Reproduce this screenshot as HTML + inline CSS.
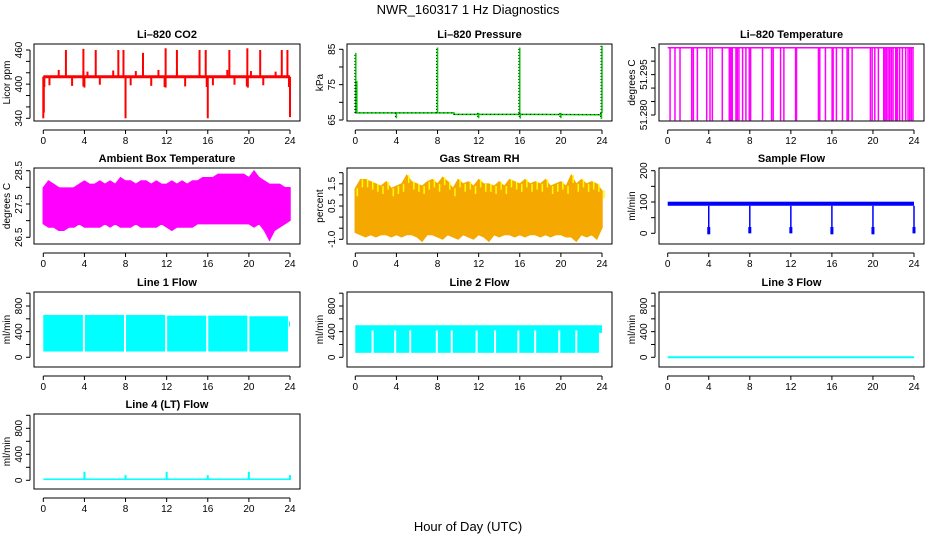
<!DOCTYPE html>
<html><head><meta charset="utf-8"><style>
html,body{margin:0;padding:0;background:#fff}
svg{display:block;font-family:"Liberation Sans",sans-serif}
</style></head><body>
<svg id="c" width="936" height="540" viewBox="0 0 936 540">
<text x="468" y="14" text-anchor="middle" font-size="13">NWR_160317  1 Hz Diagnostics</text>
<text x="468" y="531" text-anchor="middle" font-size="13">Hour of Day (UTC)</text>
</svg>
<script>
const xTicks=[0,4,8,12,16,20,24];
// CO2
const co2Base=[413,413];
const co2SpikeT=[2.2,3.9,5.1,7.3,7.8,9.7,11.9,13.0,15.2,15.8,18.1,19.85,21.1,23.2,23.75,1.5,3.9,4.3,6.8,9.0,11.2,13.0,17.9,20.2,22.6,0.0,0.05,0.1,8.0,16.0,24.0,0.6,2.8,3.9,4.0,5.5,8.5,10.5,11.8,11.9,13.8,15.9,16.5,18.6,19.8,19.9,21.4,23.9];
const co2SpikeV=[460,462,460,460,460,455,463,460,460,460,460,463,460,460,460,425,423,422,424,423,425,424,425,423,422,340,350,395,340,340,342,398,397,396,394,399,398,397,395,394,396,395,398,399,396,394,398,395];
// Pressure
const pBaseT=[0,9.6,9.6,17,24];
const pBaseV=[67,67,66.6,66.6,66.5];
const pSpikeT=[0.05,0.15,8,16,24,4,12,20,16.05,23.95];
const pSpikeV=[84,76,85.5,85.5,86,65.5,65.5,65.5,65.4,65.3];
// Li-820 temperature
const ltTimes=[0.23,0.71,1.2,2.34,2.5,2.89,3.8,4.12,4.35,5.32,6.0,6.1,6.13,6.2,6.29,6.65,6.78,6.94,7.3,7.62,7.95,8.08,9.24,10.12,10.28,11.0,11.32,12.46,12.55,14.69,14.82,15.37,16.02,16.12,16.44,17.03,17.48,17.61,17.97,19.75,19.92,20.18,20.53,21.05,21.18,21.31,21.47,21.63,21.8,21.96,22.22,22.3,22.38,22.6,22.87,23.19,23.42,23.58,23.74,23.9];
const ltHigh=51.305, ltLow=51.278;
// Ambient
const ambHi=[28.0,28.2,28.1,28.0,27.9,27.9,28.0,28.1,28.2,28.1,28.1,28.2,28.1,28.2,28.1,28.3,28.2,28.2,28.1,28.2,28.2,28.1,28.2,28.1,28.1,28.2,28.1,28.2,28.1,28.2,28.2,28.3,28.3,28.3,28.4,28.4,28.4,28.4,28.4,28.4,28.3,28.5,28.3,28.2,28.1,28.1,28.1,28.0,28.0];
const ambLo=[26.9,26.8,26.8,26.7,26.7,26.8,26.8,26.9,26.8,26.8,26.8,26.8,26.9,26.8,26.9,26.8,26.8,26.8,26.9,26.8,26.8,26.8,26.8,26.9,26.8,26.7,26.8,26.8,26.8,26.8,26.9,26.9,26.9,26.9,26.9,26.9,26.9,26.9,26.9,26.9,26.9,26.8,26.9,26.7,26.4,26.7,26.8,26.9,27.0];
const ambCore=[27.0,28.0];
// RH
const rhHi=[1.3,1.7,1.7,1.6,1.5,1.4,1.6,1.3,1.4,1.5,1.9,1.6,1.5,1.4,1.6,1.7,1.5,1.8,1.6,1.3,1.7,1.5,1.6,1.4,1.7,1.5,1.5,1.4,1.6,1.4,1.7,1.6,1.5,1.7,1.5,1.6,1.5,1.7,1.4,1.5,1.6,1.4,1.9,1.5,1.7,1.5,1.6,1.5,1.2];
const rhLo=[-0.7,-0.8,-0.9,-0.8,-0.9,-0.8,-0.8,-0.9,-0.8,-0.9,-0.8,-0.8,-0.9,-1.1,-0.8,-0.8,-0.9,-1.0,-0.8,-0.9,-1.0,-0.8,-0.9,-1.0,-0.8,-0.9,-1.1,-0.8,-0.9,-0.8,-0.8,-0.9,-0.8,-0.9,-0.8,-0.8,-0.9,-0.8,-0.9,-0.8,-0.8,-0.9,-0.9,-1.1,-0.8,-0.9,-0.8,-1.0,-0.5];
const rhCore=[-0.5,1.1];
// Sample flow
const sfBand=[88,101];
const sfDropT=[4,8,12,16,20,24];
const sfDropV=[-3,0,0,-3,-3,0];
// Line flows
const l1Start=[0,4.05,8.05,12.05,16.05,20.05,23.9];
const l1End=[3.85,7.85,11.85,15.85,19.85,23.8,24];
const l1Top=[660,660,660,650,650,640,560];
const l1Bot=[90,90,90,90,90,90,480];
const l2Band=[70,500];
const l2Gaps=[1.68,3.88,5.34,7.93,9.38,11.8,13.6,15.86,17.5,19.84,21.5];
const l2GapTop=420;
const l3Val=[0,0];
const l4Base=[5,28];
const l4SpikeT=[4,8,12,16,20,24];
const l4SpikeV=[130,80,130,80,130,80];

const svg=document.getElementById('c');
const NS='http://www.w3.org/2000/svg';
function mk(tag,at,parent){const e=document.createElementNS(NS,tag);for(const k in at)e.setAttribute(k,at[k]);(parent||svg).appendChild(e);return e;}

const cols=[{l:34,r:300,x0:43.3,x24:290},{l:347,r:612,x0:355.3,x24:602},{l:659,r:924,x0:667.7,x24:914}];
const rows=[{t:44,b:121},{t:168,b:244},{t:292,b:367},{t:414,b:489}];

function panel(name,ci,ri,title,ylab,yTicks,yLabels,v0,y0,v1,y1){
  const c=cols[ci],r=rows[ri];
  const g=mk('g',{});
  
  
  const X=t=>c.x0+(c.x24-c.x0)*t/24;
  const Y=v=>y0+(y1-y0)*(v-v0)/(v1-v0);
  const tt=mk('text',{x:(c.l+c.r)/2,y:r.t-6,'text-anchor':'middle','font-size':11,'font-weight':'bold'},g);
  tt.textContent=title;
  
  
  const ax=mk('g',{stroke:'#000','stroke-width':1,fill:'none'},g);
  
  
  const ay0=r.b+9;
  mk('line',{x1:X(0),x2:X(24),y1:ay0,y2:ay0},ax);
  xTicks.forEach(t=>{mk('line',{x1:X(t),x2:X(t),y1:ay0,y2:ay0+4},ax);
    const tx=mk('text',{x:X(t),y:r.b+23,'text-anchor':'middle','font-size':10,fill:'#000',stroke:'none'},g);tx.textContent=t;
    
    });
  const ya=mk('g',{stroke:'#000','stroke-width':1,fill:'none'},g);
  
  
  const axx=c.l-4;
  mk('line',{x1:axx,x2:axx,y1:Y(yTicks[0]),y2:Y(yTicks[yTicks.length-1])},ya);
  yTicks.forEach(v=>mk('line',{x1:axx,x2:axx-4,y1:Y(v),y2:Y(v)},ya));
  yLabels.forEach(v=>{const yy=Y(Number(v));const tx=mk('text',{x:axx-8,y:yy,'text-anchor':'middle','font-size':10,transform:`rotate(-90 ${axx-8} ${yy})`},g);tx.textContent=v;
    
    });
  const yl=mk('text',{x:c.l-24,y:(r.t+r.b)/2,'text-anchor':'middle','font-size':10,transform:`rotate(-90 ${c.l-24} ${(r.t+r.b)/2})`},g);
  yl.textContent=ylab;
  
  
  const plot=mk('g',{},g);
  
  
  const bx=mk('rect',{x:c.l,y:r.t,width:c.r-c.l,height:r.b-r.t,fill:'none',stroke:'#000','stroke-width':1},g);
  
  
  return {X,Y,plot};
}
function vline(p,x,ya,yb,col,w){return mk('line',{x1:x,x2:x,y1:ya,y2:yb,stroke:col,'stroke-width':w||1},p);}
function band(P,hi,lo,col,core){
  const n=hi.length;let d='';
  for(let i=0;i<n;i++)d+=(i?'L':'M')+P.X(i*24/(n-1))+','+P.Y(hi[i]);
  for(let i=n-1;i>=0;i--)d+='L'+P.X(i*24/(n-1))+','+P.Y(lo[i]);
  mk('path',{d:d+'Z',fill:col,stroke:col,'stroke-width':0.8},P.plot);
  for(let i=0;i<n;i++)vline(P.plot,P.X(i*24/(n-1)),P.Y(hi[i]),P.Y(lo[i]),col,1.5);
  if(core)mk('rect',{x:P.X(0),y:P.Y(core[1]),width:P.X(24)-P.X(0),height:P.Y(core[0])-P.Y(core[1]),fill:col},P.plot);
}

// CO2
let P=panel('co2',0,0,'Li\u2013820 CO2','Licor ppm',[340,360,380,400,420,440,460],['340','400','460'],340,118.3,460,50);
mk('line',{x1:P.X(0),x2:P.X(24),y1:P.Y(co2Base[0]),y2:P.Y(co2Base[1]),stroke:'#f00','stroke-width':3},P.plot);
co2SpikeT.forEach((t,i)=>vline(P.plot,P.X(t),P.Y(co2Base[0]),P.Y(co2SpikeV[i]),'#f00',2));

// Pressure
P=panel('pressure',1,0,'Li\u2013820 Pressure','kPa',[65,70,75,80,85],['65','75','85'],65,120,85,49.3);
mk('polyline',{points:pBaseT.map((t,i)=>P.X(t)+','+P.Y(pBaseV[i])).join(' '),fill:'none',stroke:'#0c0','stroke-width':1.5},P.plot);
mk('polyline',{points:pBaseT.map((t,i)=>P.X(t)+','+P.Y(pBaseV[i])).join(' '),fill:'none',stroke:'#000','stroke-width':1,'stroke-dasharray':'1 3'},P.plot);
pSpikeT.forEach((t,i)=>{vline(P.plot,P.X(t),P.Y(pBaseV[0]),P.Y(pSpikeV[i]),'#0c0',1.5);
  mk('line',{x1:P.X(t)-1,x2:P.X(t)-1,y1:P.Y(pBaseV[0]),y2:P.Y(pSpikeV[i]),stroke:'#000','stroke-width':1,'stroke-dasharray':'1 2'},P.plot);});

// Li temp
P=panel('li-temperature',2,0,'Li\u2013820 Temperature','degrees C',[51.28,51.285,51.29,51.295,51.3,51.305],['51.280','51.295'],51.28,115,51.305,47.7);
mk('line',{x1:P.X(0),x2:P.X(24),y1:P.Y(ltHigh),y2:P.Y(ltHigh),stroke:'#f0f','stroke-width':1.5},P.plot);
ltTimes.forEach(t=>vline(P.plot,P.X(t),P.Y(ltHigh),P.Y(ltLow),'#f0f',1.5));

// Ambient
P=panel('ambient-temperature',0,1,'Ambient Box Temperature','degrees C',[26.5,27,27.5,28,28.5],['26.5','27.5','28.5'],26.5,237.3,28.5,170.7);
band(P,ambHi,ambLo,'#f0f',ambCore);

// RH
P=panel('gas-stream-rh',1,1,'Gas Stream RH','percent',[-1,-0.5,0,0.5,1,1.5,2],['-1.0','0.5','1.5'],-1,239.3,2,172.7);
band(P,rhHi,rhLo,'#f5a800',rhCore);
for(let i=0;i<rhHi.length;i++)vline(P.plot,P.X(i*24/(rhHi.length-1))+2,P.Y(rhHi[i]),P.Y(rhHi[i])+8,'#ff0',1.5);

// Sample flow
P=panel('sample-flow',2,1,'Sample Flow','ml/min',[0,50,100,150,200],['0','100','200'],0,233.3,200,170.7);
mk('rect',{x:P.X(0),y:P.Y(sfBand[1]),width:P.X(24)-P.X(0),height:P.Y(sfBand[0])-P.Y(sfBand[1]),fill:'#00f'},P.plot);
sfDropT.forEach((t,i)=>{vline(P.plot,P.X(t),P.Y(sfBand[0]),P.Y(sfDropV[i]),'#00f',1.5);mk('rect',{x:P.X(t)-1.5,y:P.Y(20),width:3,height:P.Y(sfDropV[i])-P.Y(20),fill:'#00f'},P.plot);});

// Line 1
const fl=[0,200,400,600,800,1000], fll=['0','400','800'];
P=panel('line1-flow',0,2,'Line 1 Flow','ml/min',fl,fll,0,357.3,800,306);
l1Start.forEach((s,i)=>mk('rect',{x:P.X(s),y:P.Y(l1Top[i]),width:P.X(l1End[i])-P.X(s),height:P.Y(l1Bot[i])-P.Y(l1Top[i]),fill:'#0ff'},P.plot));

// Line 2
P=panel('line2-flow',1,2,'Line 2 Flow','ml/min',fl,fll,0,357.3,800,306);
mk('rect',{x:P.X(0),y:P.Y(l2Band[1]),width:P.X(23.7)-P.X(0),height:P.Y(l2Band[0])-P.Y(l2Band[1]),fill:'#0ff'},P.plot);
mk('rect',{x:P.X(23.7),y:P.Y(l2Band[1]),width:P.X(24)-P.X(23.7),height:P.Y(380)-P.Y(l2Band[1]),fill:'#0ff'},P.plot);
l2Gaps.forEach(t=>mk('rect',{x:P.X(t)-1,y:P.Y(l2GapTop),width:2,height:P.Y(l2Band[0])-P.Y(l2GapTop)+1,fill:'#fff'},P.plot));

// Line 3
P=panel('line3-flow',2,2,'Line 3 Flow','ml/min',fl,fll,0,357.3,800,306);
mk('line',{x1:P.X(0),x2:P.X(24),y1:P.Y(l3Val[0]),y2:P.Y(l3Val[1]),stroke:'#0ff','stroke-width':2},P.plot);

// Line 4
P=panel('line4-flow',0,3,'Line 4 (LT) Flow','ml/min',fl,fll,0,480.3,800,428.3);
mk('rect',{x:P.X(0),y:P.Y(l4Base[1]),width:P.X(24)-P.X(0),height:P.Y(l4Base[0])-P.Y(l4Base[1]),fill:'#0ff'},P.plot);
l4SpikeT.forEach((t,i)=>vline(P.plot,P.X(t),P.Y(l4Base[0]),P.Y(l4SpikeV[i]),'#0ff',2));
</script>
</body></html>
